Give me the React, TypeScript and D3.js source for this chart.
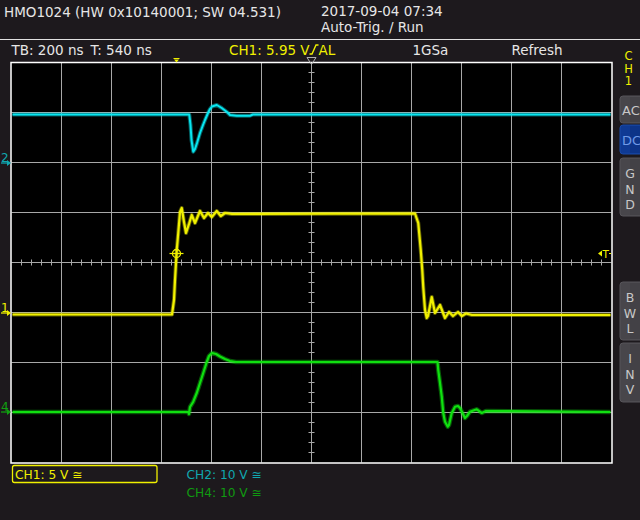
import React from "react";
import * as d3 from "d3";

// ---- data (time in ns relative to trigger, volts) ----
const ch1T = [-660, -18, -10, -6, 1, 7, 14, 21, 30, 38, 50, 61, 74, 94, 110, 126, 141, 161, 177, 194, 222, 954, 967, 977, 983, 987, 994, 1001, 1006, 1021, 1034, 1054, 1074, 1090, 1106, 1126, 1141, 1158, 1182, 1740];
const ch1V = [-0.15, -0.15, 1.3, 3.3, 6.3, 8.0, 10.1, 10.5, 9.1, 8.0, 8.9, 9.8, 9.0, 10.2, 9.5, 10.0, 9.6, 10.2, 9.7, 10.0, 9.9, 9.95, 9.0, 6.3, 4.3, 2.6, 0.3, -0.5, -0.3, 1.6, 0.0, 0.8, -0.5, 0.1, -0.3, 0.1, -0.3, -0.05, -0.2, -0.2];

const ch2T = [-660, 51, 56, 60, 67, 74, 82, 94, 106, 114, 126, 134, 142, 161, 181, 194, 202, 214, 241, 294, 306, 1740];
const ch2V = [9.7, 9.7, 7.6, 4.6, 2.26, 2.8, 4.0, 6.0, 7.6, 8.6, 10.0, 10.8, 11.3, 11.6, 11.0, 10.5, 10.2, 9.6, 9.46, 9.46, 9.7, 9.7];

const ch4T = [-660, 47, 50, 54, 67, 81, 94, 107, 121, 130, 142, 158, 174, 194, 214, 238, 1044, 1047, 1054, 1061, 1067, 1074, 1085, 1090, 1101, 1114, 1126, 1134, 1146, 1154, 1162, 1174, 1201, 1221, 1238, 1740];
const ch4V = [0.0, 0.0, -0.4, 1.0, 2.06, 3.8, 5.8, 7.8, 10.0, 11.2, 11.8, 11.6, 11.1, 10.6, 10.2, 10.0, 10.0, 8.4, 5.8, 3.06, -0.2, -1.94, -2.94, -2.6, -0.2, 1.06, 1.2, 0.8, -0.4, -1.2, -0.8, 0.06, 0.54, -0.2, 0.2, 0.0];

const headerLeft = "HMO1024 (HW 0x10140001; SW 04.531)";
const headerDate = "2017-09-04 07:34";
const headerMode = "Auto-Trig. / Run";
const timebase = "TB: 200 ns";
const triggerPos = "T: 540 ns";
const trigLabel = "CH1: 5.95 V";
const trigType = "AL";
const sampleRate = "1GSa";
const acqMode = "Refresh";
const chLabels = ["CH1: 5 V ≅", "CH2: 10 V ≅", "CH4: 10 V ≅"];

const timeDomain = [-660, 1740];
const trigLevel = 5.95;

const YEL = "#f0f000";
const CYAN = "#08e6f0";
const GRN = "#10e010";
const BG = "#1d191d";
const FONT = "DejaVu Sans, sans-serif";
const FS = 13.5;
const FS_BOTTOM = 12.2;

export default function App() {
  const L = 11.5, R = 611.5, T = 62.5, B = 462.5;
  const x = d3.scaleLinear().domain(timeDomain).range([L, R]);
  const y1 = d3.scaleLinear().domain([0, 5]).range([313, 263]);
  const y2 = d3.scaleLinear().domain([0, 10]).range([163, 113]);
  const y4 = d3.scaleLinear().domain([0, 10]).range([412, 362]);

  const mk = (ts: number[], vs: number[], ys: any) =>
    d3.line<number>().x((_, i) => x(ts[i])).y((v) => ys(v))(vs) as string;

  const p1 = mk(ch1T, ch1V, y1);
  const p2 = mk(ch2T, ch2V, y2);
  const p4 = mk(ch4T, ch4V, y4);

  const vLines = d3.range(1, 12).map((i) => L + i * 50);
  const hLines = d3.range(1, 8).map((i) => T + i * 50);
  const cx = L + 300, cy = T + 200;
  const hTicks = d3.range(L + 10, R, 10);
  const vTicks = d3.range(T + 10, B, 10);

  const tx = x(0), ty = y1(trigLevel);

  const btn = (y0: number, h: number, letters: string[], blue = false, horizontal = false) => (
    <g>
      <rect x={620} y={y0} width={24} height={h} rx={3} fill={blue ? "#0f3a94" : "#48464b"} stroke={blue ? "#1a4aa8" : "#57555a"} />
      <rect x={630} y={y0 + 1} width={12} height={h - 2} fill={blue ? "#0d3488" : "#434146"} />
      {horizontal ? (
        <text x={622} y={y0 + h / 2 + 5} fontSize={13} fill={blue ? "#6f9ae8" : "#c8c8c8"} fontFamily={FONT}>{letters.join("")}</text>
      ) : (
        letters.map((l, i) => (
          <text key={i} x={630} y={y0 + 20 + i * 15.5} textAnchor="middle" fontSize={12.5} fill="#c8c8c8" fontFamily={FONT}>{l}</text>
        ))
      )}
    </g>
  );

  return (
    <svg width={640} height={520} style={{ position: "absolute", left: 0, top: 0, display: "block" }}>
      <rect width={640} height={520} fill={BG} />
      {/* header */}
      <text x={4} y={17} fontSize={FS} fill="#e6e6e6" fontFamily={FONT}>{headerLeft}</text>
      <text x={321} y={16} fontSize={FS} fill="#e6e6e6" fontFamily={FONT}>{headerDate}</text>
      <text x={321} y={32} fontSize={FS} fill="#e6e6e6" fontFamily={FONT}>{headerMode}</text>
      <line x1={0} x2={640} y1={39.5} y2={39.5} stroke="#e0e0e0" strokeWidth={1} />
      <text x={11.5} y={54.5} fontSize={FS} fill="#e6e6e6" fontFamily={FONT}>{timebase}</text>
      <text x={90.5} y={54.5} fontSize={FS} fill="#e6e6e6" fontFamily={FONT}>{triggerPos}</text>
      <text x={229} y={54.5} fontSize={FS} fill={YEL} fontFamily={FONT}>{trigLabel}</text>
      <path d="M309.5,54 L312,54 L316,45 L318.5,45" fill="none" stroke={YEL} strokeWidth={1.4} />
      <text x={318.5} y={54.5} fontSize={FS} fill={YEL} fontFamily={FONT}>{trigType}</text>
      <text x={412.5} y={54.5} fontSize={FS} fill="#e6e6e6" fontFamily={FONT}>{sampleRate}</text>
      <text x={511.5} y={54.5} fontSize={FS} fill="#e6e6e6" fontFamily={FONT}>{acqMode}</text>

      {/* grid */}
      <rect x={L} y={T} width={R - L} height={B - T} fill="#000" />
      {vLines.map((v) => (
        <line key={"v" + v} x1={v} x2={v} y1={T} y2={B} stroke="#a8a8a8" strokeWidth={1} />
      ))}
      {hLines.map((h) => (
        <line key={"h" + h} x1={L} x2={R} y1={h} y2={h} stroke="#a8a8a8" strokeWidth={1} />
      ))}
      {hTicks.map((t) => (
        <line key={"ht" + t} x1={t} x2={t} y1={cy - 3} y2={cy + 3} stroke="#a8a8a8" strokeWidth={1} />
      ))}
      {vTicks.map((t) => (
        <line key={"vt" + t} x1={cx - 3} x2={cx + 3} y1={t} y2={t} stroke="#a8a8a8" strokeWidth={1} />
      ))}
      <rect x={L - 0.5} y={T} width={R - L + 1} height={B - T + 0.5} fill="none" stroke="#ffffff" strokeWidth={1.5} />

      {/* traces */}
      <defs>
        <clipPath id="gridclip">
          <rect x={L + 1} y={T + 1} width={R - L - 2} height={B - T - 2} />
        </clipPath>
      </defs>
      <g clipPath="url(#gridclip)" fill="none" strokeLinejoin="round">
        <path d={p2} stroke={CYAN} strokeWidth={4} opacity={0.4} />
        <path d={p2} stroke={CYAN} strokeWidth={2} />
        <path d={p4} stroke={GRN} strokeWidth={4.5} opacity={0.4} />
        <path d={p4} stroke={GRN} strokeWidth={2.2} />
        <path d={p1} stroke={YEL} strokeWidth={4} opacity={0.4} />
        <path d={p1} stroke={YEL} strokeWidth={2.2} />
      </g>

      {/* trigger crosshair */}
      <circle cx={tx} cy={ty} r={4} fill="none" stroke={YEL} strokeWidth={1.3} />
      <line x1={tx - 7} x2={tx + 7} y1={ty} y2={ty} stroke={YEL} strokeWidth={1.2} />
      <line x1={tx} x2={tx} y1={ty - 7} y2={ty + 7} stroke={YEL} strokeWidth={1.2} />

      {/* top markers */}
      <path d={`M${tx - 2.5},59.5 L${tx + 2.5},59.5 L${tx},62.5 Z`} fill={YEL} />
      <line x1={tx - 3} x2={tx + 3} y1={58.5} y2={58.5} stroke={YEL} strokeWidth={1} />
      <path d={`M${cx - 4.5},57.5 L${cx + 4.5},57.5 L${cx},64.5 Z`} fill="none" stroke="#b0b0b0" strokeWidth={1} />

      {/* trigger level marker at right */}
      <path d={`M598,${ty} L602,${ty - 3} L602,${ty + 3} Z`} fill={YEL} />
      <text x={602.5} y={ty + 4} fontSize={10.5} fill={YEL} fontFamily={FONT}>T</text>
      <line x1={609} x2={611} y1={ty} y2={ty} stroke={YEL} strokeWidth={1} />

      {/* left channel markers */}
      {[
        { n: "2", y: y2(0), c: "#10a8b0" },
        { n: "1", y: y1(0), c: YEL },
        { n: "4", y: y4(0), c: "#10a010" },
      ].map((m) => (
        <g key={m.n}>
          <text x={1} y={m.y - 1.5} fontSize={12} fill={m.c} fontFamily={FONT}>{m.n}</text>
          <line x1={1} x2={8} y1={m.y} y2={m.y} stroke={m.c} strokeWidth={1.3} />
          <path d={`M7,${m.y - 3} L11,${m.y} L7,${m.y + 3} Z`} fill={m.c} />
        </g>
      ))}

      {/* right panel */}
      {["C", "H", "1"].map((l, i) => (
        <text key={l} x={628.5} y={60 + i * 12.5} textAnchor="middle" fontSize={11.5} fill={YEL} fontFamily={FONT}>{l}</text>
      ))}
      {btn(96, 27, ["A", "C"], false, true)}
      {btn(125, 29, ["D", "C"], true, true)}
      {btn(158, 58, ["G", "N", "D"])}
      {btn(282, 58, ["B", "W", "L"])}
      {btn(343, 59, ["I", "N", "V"])}

      {/* bottom channel labels */}
      <rect x={12.5} y={465.5} width={144.5} height={17} rx={2} fill="none" stroke={YEL} strokeWidth={1.3} />
      <text x={15} y={479} fontSize={FS_BOTTOM} fill={YEL} fontFamily={FONT}>{chLabels[0]}</text>
      <text x={186.5} y={479} fontSize={FS_BOTTOM} fill="#10a8b0" fontFamily={FONT}>{chLabels[1]}</text>
      <text x={186.5} y={497} fontSize={FS_BOTTOM} fill="#109a10" fontFamily={FONT}>{chLabels[2]}</text>
    </svg>
  );
}
